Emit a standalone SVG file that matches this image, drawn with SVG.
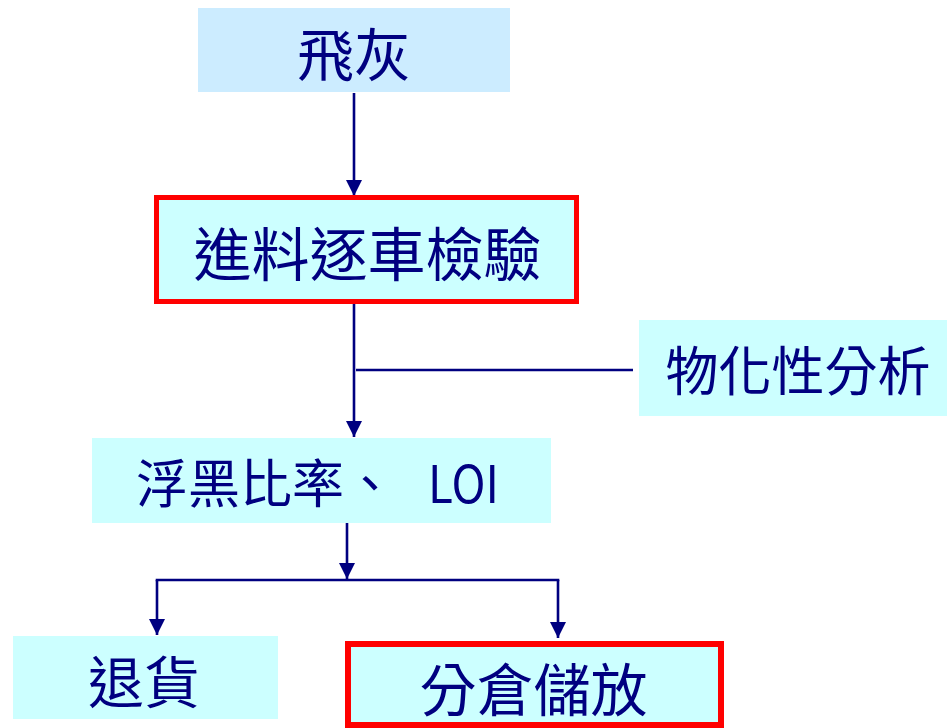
<svg xmlns="http://www.w3.org/2000/svg" width="947" height="728" viewBox="0 0 947 728">
<style>
.box{fill:#CCFFFF;stroke:none}
.hl{fill:#CCFFFF;stroke:#FF0000;stroke-width:5}
.t{font-family:"Noto Sans CJK TC","Noto Sans CJK SC",sans-serif;fill:#000080;text-anchor:middle}
.c{stroke:#000080;stroke-width:2.6;fill:none}
</style>
<defs>
<marker id="ah" markerUnits="userSpaceOnUse" markerWidth="18" markerHeight="18" refX="16" refY="8" orient="auto">
<path d="M0,0 L16,8 L0,16 Z" fill="#000080"/>
</marker>
</defs>
<rect width="947" height="728" fill="#FFFFFF"/>
<g id="connectors">
<line class="c" x1="354" y1="93" x2="354" y2="196" marker-end="url(#ah)"/>
<line class="c" x1="354" y1="304" x2="354" y2="437" marker-end="url(#ah)"/>
<line class="c" x1="356" y1="370" x2="633" y2="370"/>
<line class="c" x1="347" y1="523" x2="347" y2="579" marker-end="url(#ah)"/>
<line class="c" x1="155.7" y1="580" x2="559.3" y2="580"/>
<line class="c" x1="157" y1="580" x2="157" y2="635" marker-end="url(#ah)"/>
<line class="c" x1="558" y1="580" x2="558" y2="638" marker-end="url(#ah)"/>
</g>
<g id="n1">
<rect x="198" y="8" width="312" height="84" fill="#CCECFF"/>
<text class="t" x="354" y="76" font-size="57">飛灰</text>
</g>
<g id="n2">
<rect class="hl" x="156.5" y="197.5" width="420" height="104"/>
<text class="t" x="367.5" y="276" font-size="58">進料逐車檢驗</text>
</g>
<g id="n3">
<rect class="box" x="639" y="320" width="308" height="96"/>
<text class="t" x="798" y="391" font-size="53">物化性分析</text>
</g>
<g id="n4">
<rect class="box" x="92" y="438" width="459" height="85"/>
<text class="t" x="136" y="503" font-size="52" style="text-anchor:start">浮黑比率、<tspan x="428" textLength="71" lengthAdjust="spacingAndGlyphs">LOI</tspan></text>
</g>
<g id="n5">
<rect class="box" x="13" y="636" width="265" height="83"/>
<text class="t" x="144" y="703" font-size="56">退貨</text>
</g>
<g id="n6">
<rect class="hl" x="348" y="644" width="373" height="81" style="stroke-width:6"/>
<text class="t" x="533.5" y="711" font-size="57">分倉儲放</text>
</g>
</svg>
